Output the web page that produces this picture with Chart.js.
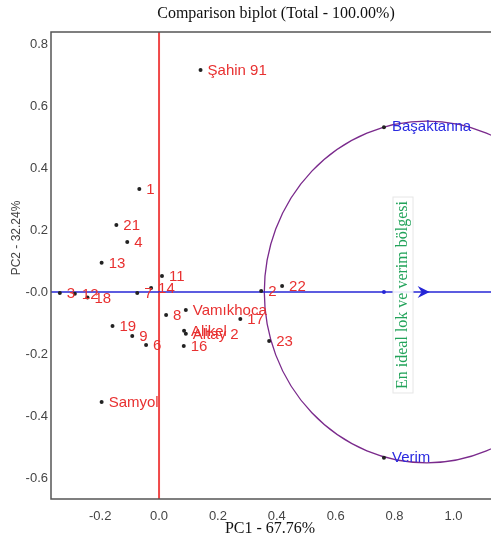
<!DOCTYPE html>
<html>
<head>
<meta charset="utf-8">
<script src="https://cdn.jsdelivr.net/npm/chart.js@4.4.1/dist/chart.umd.min.js"></script>
<style>
    html, body { margin: 0; padding: 0; background: #fff; }
    #wrap { width: 491px; height: 541px; }
</style>
</head>
<body>
<div id="wrap"><canvas id="biplot"></canvas></div>
<script>
// genotypes
const genoNames = ['Şahin 91', '1', '21', '4', '13', '11', '14', '7', '3', '12', '18',
    '19', '9', '6', '8', 'Vamıkhoca', '17', 'Alikel', 'Altay 2', '16', '23', '2', '22', 'Samyol'];
const genoPC1 = [0.141, -0.067, -0.145, -0.108, -0.195, 0.010, -0.027, -0.074, -0.337, -0.286, -0.243,
    -0.158, -0.091, -0.044, 0.024, 0.091, 0.276, 0.085, 0.091, 0.084, 0.374, 0.347, 0.418, -0.195];
const genoPC2 = [0.716, 0.332, 0.216, 0.161, 0.094, 0.052, 0.013, -0.003, -0.003, -0.006, -0.018,
    -0.110, -0.142, -0.171, -0.074, -0.058, -0.087, -0.125, -0.135, -0.174, -0.158, 0.003, 0.019, -0.355];

// traits / environments
const traitNames = ['Başaktanna', 'Verim'];
const traitPC1 = [0.764, 0.764];
const traitPC2 = [0.532, -0.535];

// ideal point on the average axis
const idealPoint = [0.909, 0];
const meanPoint = [0.764, 0];

const xTicks = [-0.2, 0.0, 0.2, 0.4, 0.6, 0.8, 1.0];
const yTicks = [-0.6, -0.4, -0.2, 0.0, 0.2, 0.4, 0.6, 0.8];

const titleText = 'Comparison biplot (Total - 100.00%)';
const xTitle = 'PC1 - 67.76%';
const yTitle = 'PC2 - 32.24%';
const zoneText = 'En ideal lok ve verim bölgesi';

const circleRadius = Math.hypot(traitPC1[0] - idealPoint[0], traitPC2[0] - idealPoint[1]);

const biplotPlugin = {
    id: 'biplot',
    beforeDatasetsDraw(chart) {
        const ctx = chart.ctx;
        const a = chart.chartArea;
        const right = chart.width;
        const xs = chart.scales.x, ys = chart.scales.y;
        ctx.save();
        ctx.beginPath();
        ctx.rect(a.left, a.top, right - a.left, a.bottom - a.top);
        ctx.clip();

        // circle around the ideal point
        const cx = xs.getPixelForValue(idealPoint[0]);
        const cy = ys.getPixelForValue(idealPoint[1]);
        const rx = xs.getPixelForValue(idealPoint[0] + circleRadius) - cx;
        const ry = cy - ys.getPixelForValue(idealPoint[1] + circleRadius);
        ctx.beginPath();
        ctx.ellipse(cx, cy, rx, ry, 0, 0, Math.PI * 2);
        ctx.strokeStyle = '#7a2a8c';
        ctx.lineWidth = 1.3;
        ctx.stroke();

        // vertical red line at PC1 = 0
        const x0 = xs.getPixelForValue(0);
        ctx.beginPath();
        ctx.moveTo(x0, a.top);
        ctx.lineTo(x0, a.bottom);
        ctx.strokeStyle = '#f04848';
        ctx.lineWidth = 2;
        ctx.stroke();

        // blue average axis
        const y0 = ys.getPixelForValue(0);
        ctx.beginPath();
        ctx.moveTo(a.left, y0);
        ctx.lineTo(right, y0);
        ctx.strokeStyle = '#2626d6';
        ctx.lineWidth = 1.6;
        ctx.stroke();

        // arrow head
        ctx.beginPath();
        ctx.moveTo(cx + 3, cy);
        ctx.lineTo(cx - 9, cy - 6);
        ctx.lineTo(cx - 5, cy);
        ctx.lineTo(cx - 9, cy + 6);
        ctx.closePath();
        ctx.fillStyle = '#2626d6';
        ctx.fill();

        // mean point
        ctx.beginPath();
        ctx.arc(xs.getPixelForValue(meanPoint[0]), ys.getPixelForValue(meanPoint[1]), 2, 0, Math.PI * 2);
        ctx.fillStyle = '#2626d6';
        ctx.fill();

        // zone text
        ctx.translate(403, 295);
        ctx.rotate(-Math.PI / 2);
        ctx.font = '16px "Liberation Serif"';
        const w = ctx.measureText(zoneText).width;
        ctx.fillStyle = 'rgba(255,255,255,0.9)';
        ctx.fillRect(-w / 2 - 4, -10, w + 8, 20);
        ctx.strokeStyle = '#e6e6e6';
        ctx.lineWidth = 1;
        ctx.strokeRect(-w / 2 - 4, -10, w + 8, 20);
        ctx.fillStyle = '#22a35a';
        ctx.textAlign = 'center';
        ctx.textBaseline = 'middle';
        ctx.fillText(zoneText, 0, 0);
        ctx.restore();
    },
    afterDatasetsDraw(chart) {
        const ctx = chart.ctx;
        ctx.save();
        ctx.font = '15px "Liberation Sans"';
        ctx.textBaseline = 'middle';
        ctx.textAlign = 'left';
        const gMeta = chart.getDatasetMeta(0);
        ctx.fillStyle = '#e83030';
        gMeta.data.forEach((p, i) => ctx.fillText(genoNames[i], p.x + 7, p.y + 1));
        const tMeta = chart.getDatasetMeta(1);
        ctx.fillStyle = '#2a2ae0';
        tMeta.data.forEach((p, i) => ctx.fillText(traitNames[i], p.x + 8, p.y));
        ctx.restore();
    },
    afterDraw(chart) {
        const ctx = chart.ctx;
        const a = chart.chartArea;
        const right = chart.width;
        ctx.save();
        // frame (left, top, bottom)
        ctx.beginPath();
        ctx.moveTo(right, a.top);
        ctx.lineTo(a.left, a.top);
        ctx.lineTo(a.left, a.bottom);
        ctx.lineTo(right, a.bottom);
        ctx.strokeStyle = '#555';
        ctx.lineWidth = 1.5;
        ctx.stroke();

        ctx.fillStyle = '#111';
        ctx.textAlign = 'center';
        ctx.textBaseline = 'middle';
        ctx.font = '16px "Liberation Serif"';
        ctx.fillText(titleText, 276, 14);
        ctx.fillText(xTitle, 270, 529);

        ctx.translate(17, 238);
        ctx.rotate(-Math.PI / 2);
        ctx.font = '12px "Liberation Sans"';
        ctx.fillStyle = '#444';
        ctx.fillText(yTitle, 0, 0);
        ctx.restore();
    }
};

new Chart(document.getElementById('biplot').getContext('2d'), {
    type: 'scatter',
    data: {
        datasets: [{
            label: 'Genotypes',
            data: genoPC1.map((v, i) => ({ x: v, y: genoPC2[i] })),
            backgroundColor: '#222',
            borderWidth: 0,
            pointRadius: 2
        }, {
            label: 'Traits',
            data: traitPC1.map((v, i) => ({ x: v, y: traitPC2[i] })),
            backgroundColor: '#222',
            borderWidth: 0,
            pointRadius: 2
        }]
    },
    options: {
        responsive: true,
        maintainAspectRatio: false,
        animation: false,
        layout: { padding: { top: 32, right: 0, left: 0, bottom: 0 } },
        plugins: {
            legend: { display: false },
            tooltip: { enabled: false }
        },
        scales: {
            x: {
                min: -0.367,
                max: 1.114,
                afterBuildTicks: s => { s.ticks = xTicks.map(v => ({ value: v })); },
                afterFit: s => { s.height = 42; },
                grid: { display: false, drawTicks: false },
                border: { display: false },
                ticks: {
                    padding: 10,
                    color: '#444',
                    font: { family: 'Liberation Sans', size: 13 },
                    callback: v => v.toFixed(1)
                }
            },
            y: {
                min: -0.668,
                max: 0.839,
                afterBuildTicks: s => { s.ticks = yTicks.map(v => ({ value: v })); },
                afterFit: s => { s.width = 51; },
                grid: { display: false, drawTicks: false },
                border: { display: false },
                ticks: {
                    padding: 3,
                    color: '#444',
                    font: { family: 'Liberation Sans', size: 13 },
                    callback: v => (Math.abs(v) < 1e-9 ? '-0.0' : v.toFixed(1))
                }
            }
        }
    },
    plugins: [biplotPlugin]
});
</script>
</body>
</html>
